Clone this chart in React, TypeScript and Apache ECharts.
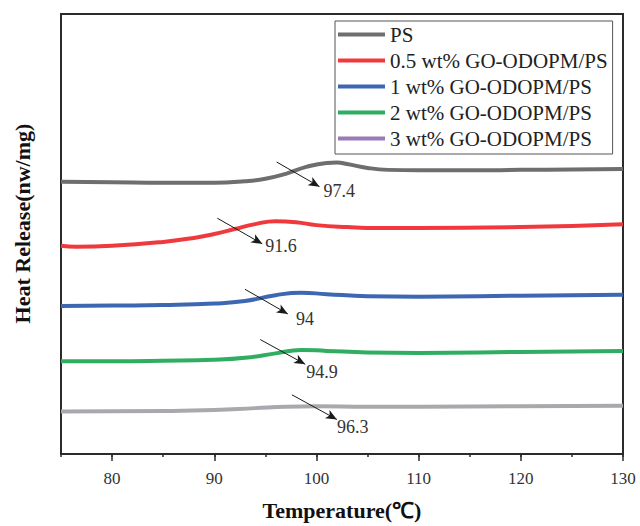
import React, { useEffect, useRef } from "react";
import * as echarts from "echarts";

// Temperature (°C) sample positions and relative heat-release values (arbitrary units, offset per curve)
const psX = [75, 80, 85, 90, 93, 95, 97, 99, 101, 102, 103, 105, 107, 110, 115, 120, 125, 130];
const psY = [276, 275.5, 275, 275, 276.5, 279, 284, 291, 295, 295.5, 294, 290, 288, 287.5, 287.5, 288, 288.5, 289];

const p05X = [75, 76.5, 80, 85, 88, 90, 92, 94, 96, 98, 100, 103, 106, 110, 120, 130];
const p05Y = [211, 210, 211, 215, 219, 223, 228, 233, 236, 235, 232, 230, 229, 229, 230, 233];

const p1X = [75, 80, 85, 90, 93, 96, 98.5, 101, 105, 110, 120, 130];
const p1Y = [150, 150.5, 151, 152.5, 155, 161, 163.5, 162, 160, 159.5, 160.5, 161.5];

const p2X = [75, 80, 85, 90, 93, 96, 98.5, 101, 105, 110, 120, 130];
const p2Y = [94, 94, 94.5, 95.5, 97.5, 102, 105.5, 104.5, 103, 102.5, 103.5, 104.5];

const p3X = [75, 85, 90, 94, 97, 100, 105, 110, 120, 130];
const p3Y = [43, 43.5, 44.5, 46.5, 48, 48.5, 48, 48, 48.5, 49];

const seriesNames = [
  "PS",
  "0.5 wt% GO-ODOPM/PS",
  "1 wt% GO-ODOPM/PS",
  "2 wt% GO-ODOPM/PS",
  "3 wt% GO-ODOPM/PS",
];
const lineColors = ["#6e6e70", "#f0393d", "#3d67b3", "#2fae62", "#a9a9ad"];
const legendColors = ["#6e6e70", "#f0393d", "#3d67b3", "#2fae62", "#9a7bb8"];

// Annotation: arrow start, arrow end, label anchor, label text
const annotStart = [[96.1, 296], [90.3, 239], [93.0, 167], [94.5, 116], [97.6, 60]];
const annotEnd = [[100.3, 271], [94.7, 213], [97.2, 142], [98.9, 91], [102.0, 35]];
const annotLabelPos = [[100.7, 267], [95.0, 211], [98.0, 137], [99.0, 83], [102.0, 27]];
const annotText = ["97.4", "91.6", "94", "94.9", "96.3"];

const xMajorTicks = [80, 90, 100, 110, 120, 130];

const xs = [psX, p05X, p1X, p2X, p3X];
const ys = [psY, p05Y, p1Y, p2Y, p3Y];

export default function App() {
  const ref = useRef<HTMLDivElement>(null);
  useEffect(() => {
    if (!ref.current) return;
    document.body.style.margin = "0";
    const chart = echarts.init(ref.current, null, { renderer: "svg" });
    const serif = "Liberation Serif";
    const series = seriesNames.map((name, i) => ({
      name,
      type: "line",
      data: xs[i].map((x, j) => [x, ys[i][j]]),
      smooth: 0.5,
      showSymbol: false,
      symbol: "none",
      itemStyle: { color: lineColors[i] },
      lineStyle: { color: lineColors[i], width: 4 },
      z: 2,
      markLine: {
        silent: true,
        symbol: ["none", "arrow"],
        symbolSize: [7, 11],
        lineStyle: { color: "#1a1a1a", width: 1, type: "solid" },
        label: { show: false },
        data: [[{ coord: annotStart[i] }, { coord: annotEnd[i] }]],
        z: 5,
      },
      markPoint: {
        silent: true,
        symbol: "circle",
        symbolSize: 0,
        itemStyle: { color: "transparent" },
        label: {
          show: true,
          position: [0, 0],
          align: "left",
          verticalAlign: "middle",
          formatter: annotText[i],
          fontFamily: serif,
          fontSize: 18,
          color: "#333",
        },
        data: [{ coord: annotLabelPos[i] }],
      },
    }));

    chart.setOption({
      animation: false,
      backgroundColor: "#ffffff",
      grid: {
        left: 61,
        right: 17,
        top: 14,
        bottom: 66,
        show: true,
        borderColor: "#2b2b2b",
        borderWidth: 2,
        backgroundColor: "transparent",
      },
      legend: {
        orient: "vertical",
        left: 335,
        top: 21,
        icon: "rect",
        itemWidth: 47,
        itemHeight: 4,
        itemGap: 5,
        padding: [3, 5, 5, 3],
        borderColor: "#555",
        borderWidth: 1,
        backgroundColor: "#fff",
        textStyle: { fontFamily: serif, fontSize: 21, color: "#222", lineHeight: 21 },
        data: seriesNames.map((n, i) => ({ name: n, itemStyle: { color: legendColors[i] } })),
      },
      xAxis: [
        {
          type: "value",
          min: 75,
          max: 130,
          interval: 5,
          axisLine: { show: true, onZero: false, lineStyle: { color: "#2b2b2b", width: 2 } },
          axisTick: { show: true, length: 3, lineStyle: { color: "#2b2b2b", width: 1.5 } },
          axisLabel: {
            fontFamily: serif,
            fontSize: 17,
            color: "#333",
            margin: 16,
            formatter: (v: number) => (xMajorTicks.includes(v) ? String(v) : ""),
          },
          splitLine: { show: false },
          name: "Temperature(℃)",
          nameLocation: "middle",
          nameGap: 45,
          nameTextStyle: { fontFamily: serif, fontWeight: "bold", fontSize: 22, color: "#111" },
        },
        {
          type: "value",
          position: "bottom",
          min: 75,
          max: 130,
          interval: 5,
          axisLine: { show: false, onZero: false },
          axisTick: {
            show: true,
            length: 7,
            customValues: xMajorTicks,
            lineStyle: { color: "#2b2b2b", width: 1.5 },
          },
          axisLabel: { show: false },
          splitLine: { show: false },
        },
      ],
      yAxis: {
        type: "value",
        min: 0,
        max: 446,
        axisLine: { show: true, lineStyle: { color: "#2b2b2b", width: 2 } },
        axisTick: { show: false },
        axisLabel: { show: false },
        splitLine: { show: false },
        name: "Heat Release(nw/mg)",
        nameLocation: "middle",
        nameGap: 28,
        nameTextStyle: { fontFamily: serif, fontWeight: "bold", fontSize: 22, color: "#111", padding: [0, 0, 0, 21] },
      },
      series,
    });
    return () => chart.dispose();
  }, []);
  return <div ref={ref} style={{ width: 640, height: 526 }} />;
}
